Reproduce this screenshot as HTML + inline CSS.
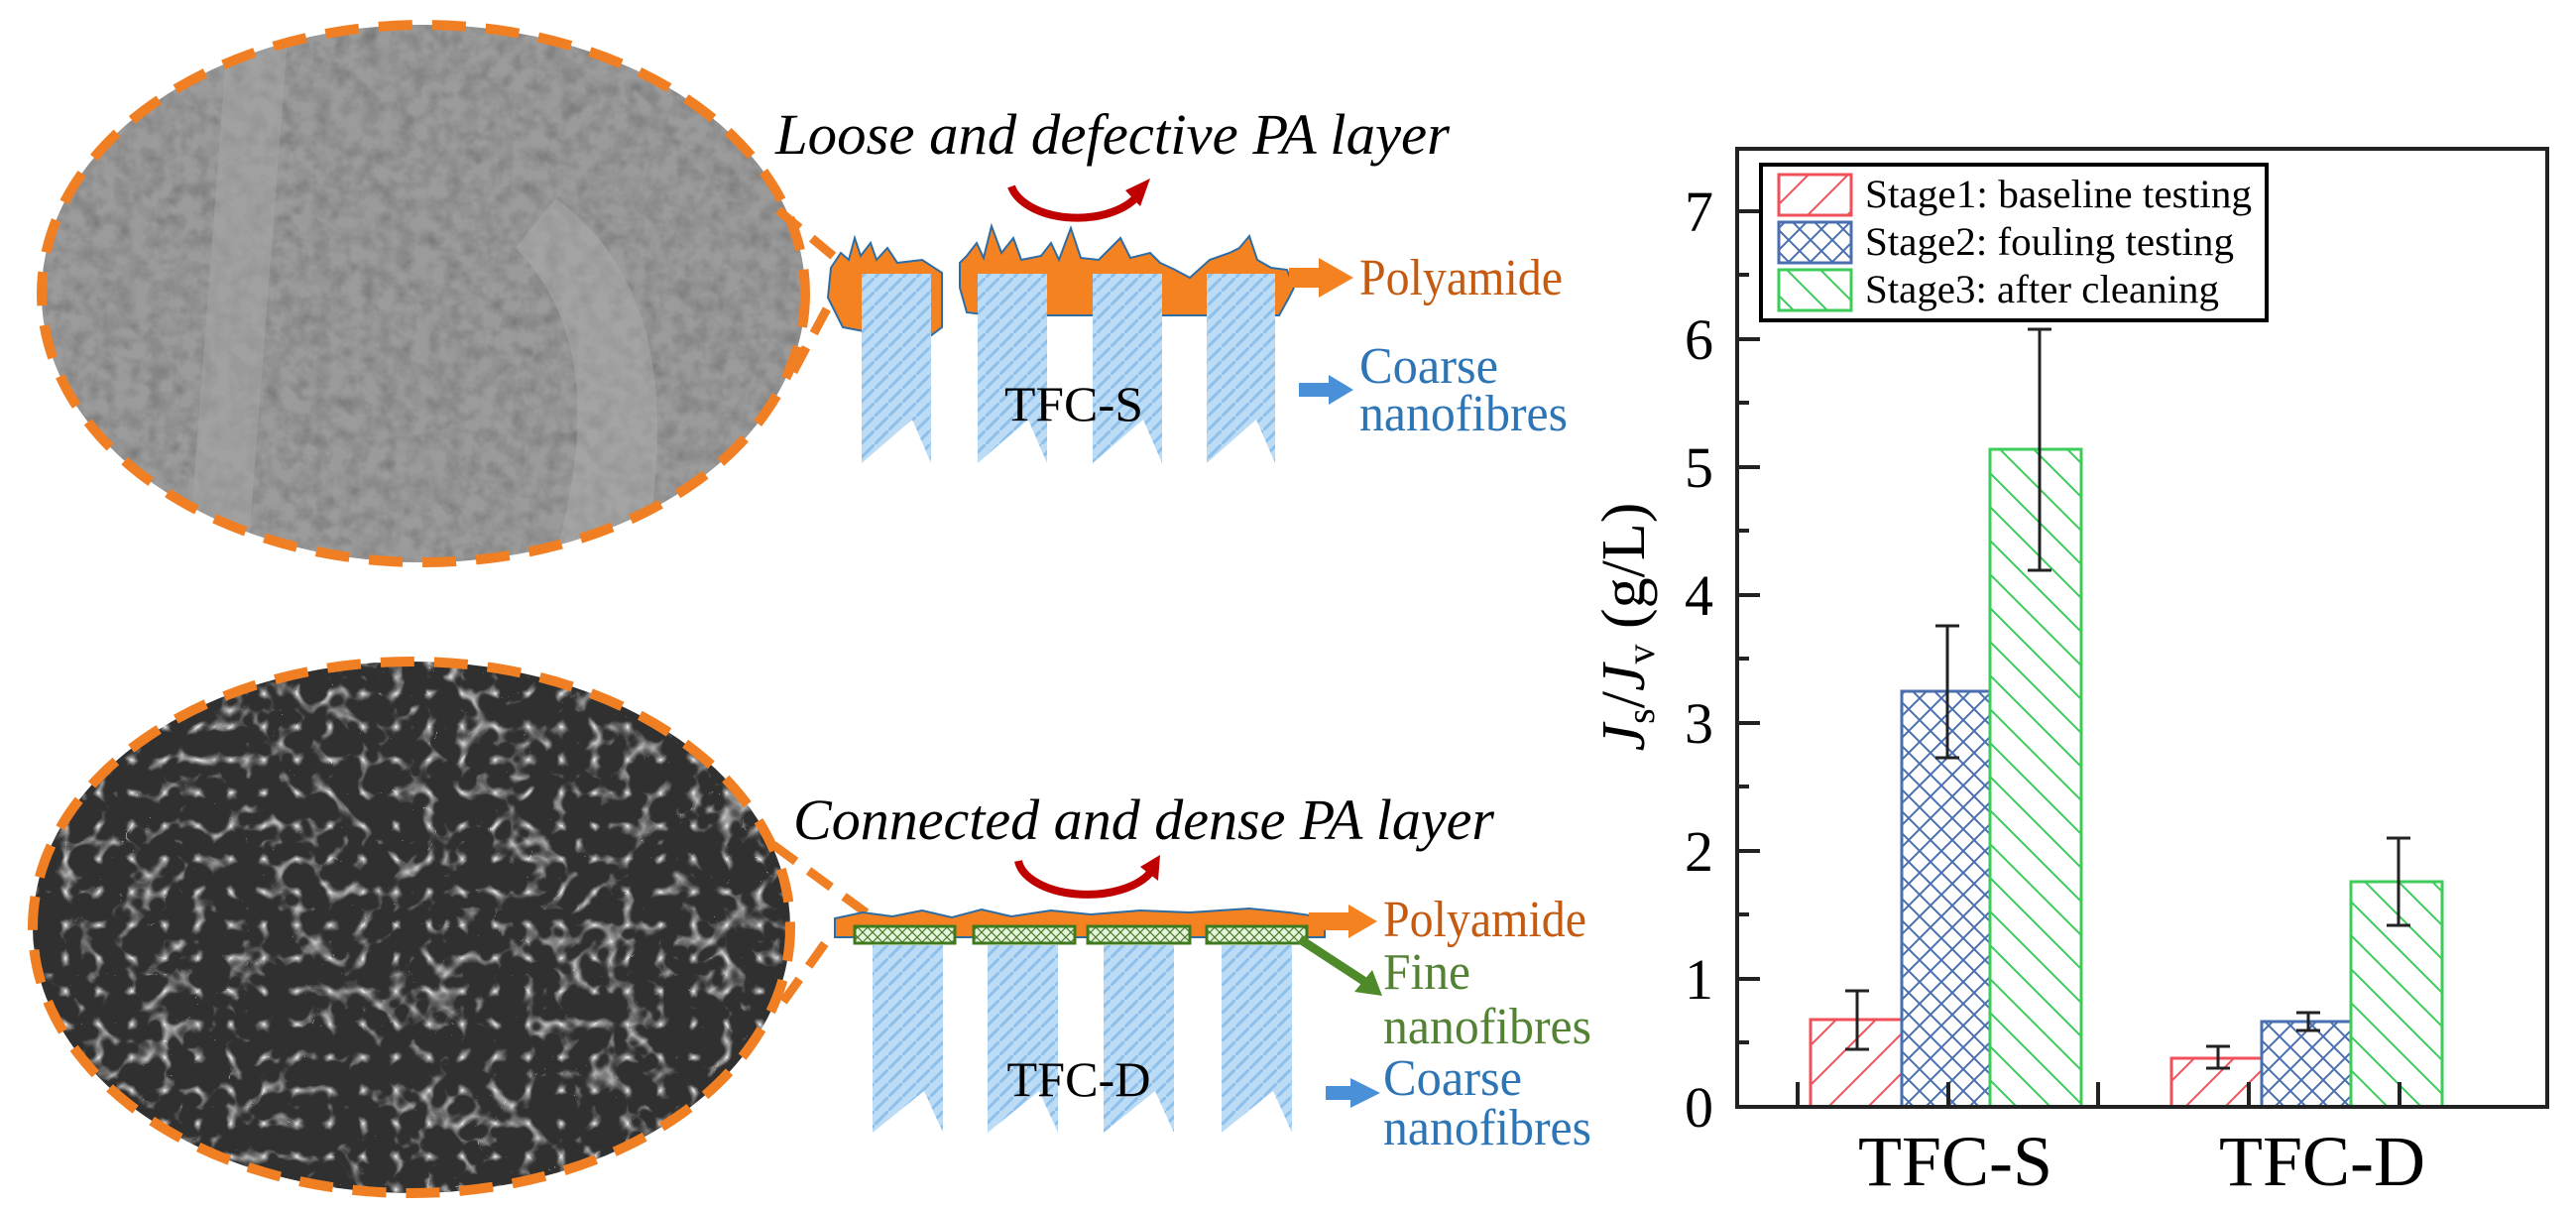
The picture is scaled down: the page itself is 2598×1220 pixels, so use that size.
<!DOCTYPE html>
<html><head><meta charset="utf-8"><style>html,body{margin:0;padding:0;background:#fff}svg{display:block}svg text{font-family:"Liberation Serif","DejaVu Serif",serif}</style></head>
<body>
<svg width="2598" height="1220" viewBox="0 0 2598 1220" xmlns="http://www.w3.org/2000/svg" style="font-family:'Liberation Serif',serif">
<defs>
<pattern id="pr" width="40" height="40" patternUnits="userSpaceOnUse"><path d="M-10,50 L50,-10 M-10,10 L10,-10 M30,50 L50,30" stroke="#f0505a" stroke-width="2"/></pattern>
<pattern id="pb" width="22" height="22" patternUnits="userSpaceOnUse"><path d="M0,0 L22,22 M22,0 L0,22" stroke="#4a6fb0" stroke-width="2"/></pattern>
<pattern id="pg" width="34" height="34" patternUnits="userSpaceOnUse"><path d="M-5,-5 L39,39 M-5,29 L5,39 M29,-5 L39,5" stroke="#3ccc5a" stroke-width="2"/></pattern>
<pattern id="pf" width="14" height="14" patternUnits="userSpaceOnUse"><rect width="14" height="14" fill="#bcdcf5"/><path d="M0,14 L14,0" stroke="#8ec0ec" stroke-width="3"/></pattern>
<pattern id="px" width="10" height="10" patternUnits="userSpaceOnUse"><rect width="10" height="10" fill="#e6f4dc"/><path d="M0,0 L10,10 M10,0 L0,10" stroke="#4a7a2a" stroke-width="1.2"/></pattern>
<filter id="t1" x="0" y="0" width="100%" height="100%"><feTurbulence type="fractalNoise" baseFrequency="0.06" numOctaves="3" seed="3"/><feColorMatrix type="matrix" values="0 0 0 0 0.33  0 0 0 0 0.33  0 0 0 0 0.33  0.9 0.9 0.9 0 -0.6"/></filter>
<filter id="t2" x="0" y="0" width="100%" height="100%"><feTurbulence type="turbulence" baseFrequency="0.03" numOctaves="2" seed="7"/><feColorMatrix type="matrix" values="0 0 0 0 0.9  0 0 0 0 0.9  0 0 0 0 0.9  -1.6 -1.6 -1.6 0 1.05"/></filter>
<clipPath id="c1"><ellipse cx="427" cy="296" rx="385" ry="271"/></clipPath>
<clipPath id="c2"><ellipse cx="415" cy="935" rx="382" ry="268"/></clipPath>
</defs>

<g clip-path="url(#c1)"><rect x="0" y="0" width="850" height="600" fill="#7a7a7a"/><rect x="0" y="0" width="850" height="600" filter="url(#t1)"/>
<path d="M230,30 L290,40 L250,560 L190,560 Z" fill="#a8a8a8" opacity="0.5"/><path d="M560,200 Q700,300 650,560 L560,560 Q620,350 520,250Z" fill="#b0b0b0" opacity="0.45"/></g>
<g clip-path="url(#c2)"><rect x="0" y="650" width="850" height="580" fill="#303030"/><rect x="0" y="650" width="850" height="580" filter="url(#t2)" opacity="0.9"/></g>
<ellipse cx="427" cy="296" rx="385" ry="271" fill="none" stroke="#f07f24" stroke-width="10" stroke-dasharray="34,20"/>
<ellipse cx="415" cy="935" rx="382" ry="268" fill="none" stroke="#f07f24" stroke-width="10" stroke-dasharray="34,20"/>
<path d="M785,212 L845,262 M800,375 L840,300" stroke="#f07f24" stroke-width="9" stroke-dasharray="28,16"/>
<path d="M780,852 L880,925 M790,1010 L840,940" stroke="#f07f24" stroke-width="9" stroke-dasharray="28,16"/>

<text x="782" y="155" font-size="58" font-style="italic" textLength="680" lengthAdjust="spacingAndGlyphs">Loose and defective PA layer</text>
<path d="M1020,188 A68,40 0 0 0 1145,200" fill="none" stroke="#c00000" stroke-width="8"/><path d="M1135,192 L1160,180 L1150,208Z" fill="#c00000"/>
<path d="M838,270 L848,255 L856,262 L862,240 L868,258 L878,245 L884,262 L895,250 L905,265 L930,262 L950,275 L950,330 L930,345 L850,330 L835,300 Z" fill="#f58220" stroke="#2e6da4" stroke-width="2"/>
<path d="M968,265 L975,258 L985,245 L992,260 L1000,228 L1010,255 L1022,240 L1030,262 L1050,258 L1060,245 L1068,262 L1080,230 L1090,260 L1108,262 L1120,250 L1130,240 L1140,260 L1160,255 L1170,265 L1185,272 L1200,280 L1220,262 L1240,255 L1250,250 L1260,238 L1268,262 L1282,270 L1298,272 L1305,290 L1300,300 L1290,318 L1180,318 L1100,318 L1000,318 L975,315 L968,290 Z" fill="#f58220" stroke="#2e6da4" stroke-width="2"/>
<path d="M1300,270 L1330,270 L1330,260 L1365,280 L1330,300 L1330,290 L1300,290Z" fill="#f58220"/>
<g fill="url(#pf)">
<path d="M869,276 L939,276 L939,467 L920,423 L869,467Z"/><path d="M986,276 L1056,276 L1056,467 L1037,423 L986,467Z"/>
<path d="M1102,276 L1172,276 L1172,467 L1153,423 L1102,467Z"/><path d="M1217,276 L1286,276 L1286,467 L1267,423 L1217,467Z"/>
</g>
<text x="1083" y="424" font-size="50" text-anchor="middle" textLength="140" lengthAdjust="spacingAndGlyphs">TFC-S</text>
<text x="1371" y="297" font-size="52" fill="#c55a11" textLength="205" lengthAdjust="spacingAndGlyphs">Polyamide</text>
<path d="M1310,386 L1340,386 L1340,378 L1365,393 L1340,408 L1340,400 L1310,400Z" fill="#4a90d9"/>
<text x="1371" y="386" font-size="52" fill="#2e75b6" textLength="140" lengthAdjust="spacingAndGlyphs">Coarse</text>
<text x="1371" y="434" font-size="52" fill="#2e75b6" textLength="210" lengthAdjust="spacingAndGlyphs">nanofibres</text>

<text x="800" y="846" font-size="58" font-style="italic" textLength="707" lengthAdjust="spacingAndGlyphs">Connected and dense PA layer</text>
<path d="M1027,868 A70,38 0 0 0 1160,880" fill="none" stroke="#c00000" stroke-width="8"/><path d="M1150,874 L1170,862 L1168,888Z" fill="#c00000"/>
<path d="M842,926 L870,920 L900,924 L930,918 L960,925 L990,917 L1020,924 L1060,918 L1100,922 L1150,918 L1200,920 L1260,916 L1300,920 L1336,925 L1336,945 L842,945Z" fill="#f58220" stroke="#2e6da4" stroke-width="2"/>
<path d="M1320,920 L1360,920 L1360,912 L1389,929 L1360,946 L1360,938 L1320,938Z" fill="#f58220"/>
<g fill="url(#px)" stroke="#3f7a1f" stroke-width="3">
<rect x="862" y="934" width="101" height="17"/><rect x="982" y="934" width="102" height="17"/><rect x="1097" y="934" width="103" height="17"/><rect x="1217" y="934" width="101" height="17"/></g>
<g fill="url(#pf)">
<path d="M880,953 L951,953 L951,1142 L932,1100 L880,1142Z"/><path d="M996,953 L1067,953 L1067,1142 L1048,1100 L996,1142Z"/>
<path d="M1113,953 L1184,953 L1184,1142 L1165,1100 L1113,1142Z"/><path d="M1232,953 L1303,953 L1303,1142 L1284,1100 L1232,1142Z"/>
</g>
<path d="M1311,947 L1380,992" stroke="#4e8a2a" stroke-width="9"/><path d="M1394,1004 L1366,1000 L1384,978Z" fill="#4e8a2a"/>
<text x="1088" y="1105" font-size="50" text-anchor="middle" textLength="145" lengthAdjust="spacingAndGlyphs">TFC-D</text>
<text x="1395" y="944" font-size="52" fill="#c55a11" textLength="205" lengthAdjust="spacingAndGlyphs">Polyamide</text>
<text x="1395" y="997" font-size="52" fill="#548235" textLength="88" lengthAdjust="spacingAndGlyphs">Fine</text>
<text x="1395" y="1052" font-size="52" fill="#548235" textLength="210" lengthAdjust="spacingAndGlyphs">nanofibres</text>
<path d="M1337,1095 L1362,1095 L1362,1087 L1392,1102 L1362,1117 L1362,1109 L1337,1109Z" fill="#4a90d9"/>
<text x="1395" y="1104" font-size="52" fill="#2e75b6" textLength="140" lengthAdjust="spacingAndGlyphs">Coarse</text>
<text x="1395" y="1154" font-size="52" fill="#2e75b6" textLength="210" lengthAdjust="spacingAndGlyphs">nanofibres</text>

<g stroke-width="3">
<rect x="1826" y="1028" width="92" height="88" fill="url(#pr)" stroke="#f0505a"/>
<rect x="1918" y="697" width="89" height="419" fill="url(#pb)" stroke="#4a6fb0"/>
<rect x="2007" y="453" width="92" height="663" fill="url(#pg)" stroke="#3ccc5a"/>
<rect x="2190" y="1067" width="91" height="49" fill="url(#pr)" stroke="#f0505a"/>
<rect x="2281" y="1030" width="90" height="86" fill="url(#pb)" stroke="#4a6fb0"/>
<rect x="2371" y="889" width="92" height="227" fill="url(#pg)" stroke="#3ccc5a"/>
</g>
<g stroke="#222" stroke-width="3" fill="none">
<path d="M1873,999 V1058 M1861,999 H1885 M1861,1058 H1885"/>
<path d="M1964,631 V764 M1952,631 H1976 M1952,764 H1976"/>
<path d="M2057,332 V575 M2045,332 H2069 M2045,575 H2069"/>
<path d="M2237,1055 V1077 M2225,1055 H2249 M2225,1077 H2249"/>
<path d="M2328,1021 V1039 M2316,1021 H2340 M2316,1039 H2340"/>
<path d="M2419,845 V933 M2407,845 H2431 M2407,933 H2431"/>
</g>
<rect x="1752" y="150" width="817" height="966" fill="none" stroke="#222" stroke-width="4"/>
<g stroke="#222" stroke-width="4">
<path d="M1752,1116 H1775 M1752,987 H1775 M1752,858 H1775 M1752,729 H1775 M1752,600 H1775 M1752,471 H1775 M1752,342 H1775 M1752,213 H1775"/>
<path d="M1752,1051 H1764 M1752,922 H1764 M1752,793 H1764 M1752,664 H1764 M1752,535 H1764 M1752,406 H1764 M1752,277 H1764"/>
<path d="M1813,1116 V1091 M1965,1116 V1091 M2116,1116 V1091 M2268,1116 V1091 M2420,1116 V1091"/>
</g>
<g font-size="58" text-anchor="end" fill="#000">
<text x="1728" y="1136">0</text><text x="1728" y="1007">1</text><text x="1728" y="878">2</text><text x="1728" y="749">3</text><text x="1728" y="620">4</text><text x="1728" y="491">5</text><text x="1728" y="362">6</text><text x="1728" y="233">7</text>
</g>
<g font-size="72" text-anchor="middle"><text x="1972" y="1195">TFC-S</text><text x="2342" y="1195">TFC-D</text></g>
<text transform="translate(1658,632) rotate(-90)" font-size="62" text-anchor="middle"><tspan font-style="italic">J</tspan><tspan font-size="40" dy="10">s</tspan><tspan dy="-10">/</tspan><tspan font-style="italic">J</tspan><tspan font-size="40" dy="10">v</tspan><tspan dy="-10"> (g/L)</tspan></text>
<rect x="1776" y="166" width="510" height="157" fill="#fff" stroke="#000" stroke-width="4"/>
<rect x="1794" y="176" width="73" height="41" fill="url(#pr)" stroke="#f0505a" stroke-width="3"/>
<rect x="1794" y="224" width="73" height="41" fill="url(#pb)" stroke="#4a6fb0" stroke-width="3"/>
<rect x="1794" y="272" width="73" height="41" fill="url(#pg)" stroke="#3ccc5a" stroke-width="3"/>
<g font-size="40"><text x="1881" y="209" textLength="390" lengthAdjust="spacingAndGlyphs">Stage1: baseline testing</text><text x="1881" y="257" textLength="372" lengthAdjust="spacingAndGlyphs">Stage2: fouling testing</text><text x="1881" y="305" textLength="357" lengthAdjust="spacingAndGlyphs">Stage3: after cleaning</text></g>
</svg>
</body></html>
